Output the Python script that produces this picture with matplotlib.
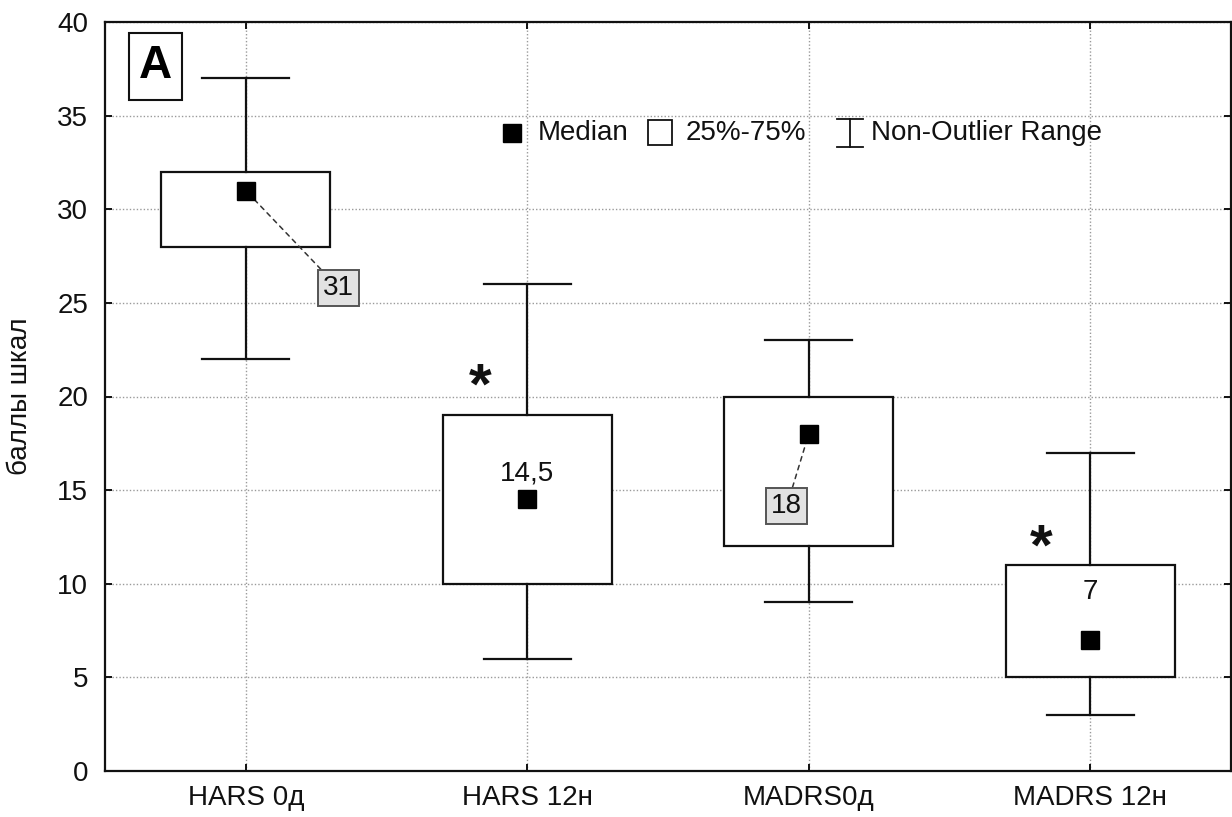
import matplotlib

matplotlib.use("Agg")
import matplotlib.pyplot as plt
from matplotlib.lines import Line2D
from matplotlib.patches import Rectangle

plt.rcParams["font.family"] = ["Liberation Sans", "DejaVu Sans"]

categories = ["HARS 0д", "HARS 12н", "MADRS0д", "MADRS 12н"]
medians = [31, 14.5, 18, 7]
q1 = [28, 10, 12, 5]
q3 = [32, 19, 20, 11]
whis_lo = [22, 6, 9, 3]
whis_hi = [37, 26, 23, 17]
median_labels = ["31", "14,5", "18", "7"]
significant = [False, True, False, True]

INK = "#111111"
GRID = "#9a9a9a"
FS = 20

fig = plt.figure(figsize=(12.32, 8.17), dpi=100, facecolor="white")
ax = fig.add_axes([105 / 1232, 46 / 817, 1126 / 1232, 749 / 817])

stats = []
for i, name in enumerate(categories):
    stats.append(dict(label=name, med=medians[i], q1=q1[i], q3=q3[i],
                      whislo=whis_lo[i], whishi=whis_hi[i], fliers=[]))

pos = list(range(len(categories)))
ax.bxp(stats, positions=pos, widths=0.6, capwidths=0.31, patch_artist=True,
       showfliers=False,
       boxprops=dict(facecolor="white", edgecolor=INK, linewidth=1.6),
       whiskerprops=dict(color=INK, linewidth=1.6),
       capprops=dict(color=INK, linewidth=1.6),
       medianprops=dict(linestyle="none"))
ax.plot(pos, medians, linestyle="none", marker="s", markersize=13.5,
        color="black", zorder=5)

# median values: boxed labels with dashed leader, plain labels above marker
label_box = dict(boxstyle="square,pad=0.18", facecolor="#e2e2e2",
                 edgecolor="#555555", linewidth=1.4)
leader = dict(arrowstyle="-", linestyle=(0, (3, 3)), linewidth=1.1,
              color="#333333", shrinkA=0, shrinkB=4)
ax.annotate(median_labels[0], xy=(pos[0], medians[0]), xytext=(0.33, 25.8),
            ha="center", va="center", fontsize=FS, color=INK,
            bbox=label_box, arrowprops=leader, zorder=4)
ax.annotate(median_labels[2], xy=(pos[2], medians[2]), xytext=(1.922, 14.15),
            ha="center", va="center", fontsize=FS, color=INK,
            bbox=label_box, arrowprops=leader, zorder=4)
ax.text(pos[1], medians[1] + 1.4, median_labels[1], ha="center",
        va="center", fontsize=FS, color=INK, zorder=4)
ax.text(pos[3], medians[3] + 2.55, median_labels[3], ha="center",
        va="center", fontsize=FS, color=INK, zorder=4)

# significance marks
star_xy = {1: (0.832, 20.45), 3: (2.827, 11.85)}
for i, flag in enumerate(significant):
    if flag:
        x, y = star_xy[i]
        ax.text(x, y, "*", ha="center", va="center", fontsize=42,
                fontweight="bold", color=INK)

ax.set_xlim(-0.5, 3.5)
ax.set_ylim(0, 40)
ax.set_xticks(pos)
ax.set_xticklabels(categories)
ax.set_yticks(range(0, 41, 5))
ax.grid(True, linestyle=(0, (1, 1.5)), color=GRID, linewidth=1.0)
ax.set_axisbelow(True)
ax.tick_params(direction="in", length=5, width=1.4, top=True, right=True,
               labelsize=FS, colors=INK)
ax.tick_params(axis="y", pad=12)
ax.tick_params(axis="x", pad=10)
for s in ax.spines.values():
    s.set_linewidth(1.6)
    s.set_color(INK)

ax.set_ylabel("баллы шкал", fontsize=FS, color=INK)
ax.yaxis.set_label_coords(-0.064, 0.5)

# panel letter
ax.add_patch(Rectangle((24 / 1126, 671 / 749), 53 / 1126, 67 / 749,
                       transform=ax.transAxes, facecolor="white",
                       edgecolor=INK, linewidth=1.5, zorder=6))
ax.text(50 / 1126, 705 / 749, "A", transform=ax.transAxes, ha="center",
        va="center", fontsize=33, fontweight="bold", color="black", zorder=7)

# legend drawn by hand
ly = 0.852
tr = ax.transAxes
ax.plot([0.3615], [ly], marker="s", markersize=13, color="black",
        transform=tr, clip_on=False, zorder=6)
ax.text(0.3845, ly, "Median", transform=tr, ha="left", va="center",
        fontsize=FS, color=INK)
ax.add_patch(Rectangle((0.4825, ly - 0.0167), 0.0213, 0.0334, transform=tr,
                       facecolor="white", edgecolor=INK, linewidth=1.3,
                       zorder=6))
ax.text(0.516, ly, "25%-75%", transform=tr, ha="left", va="center",
        fontsize=FS, color=INK)
wx, wh, cw = 0.662, 0.0187, 0.0115
ax.add_line(Line2D([wx, wx], [ly - wh, ly + wh], transform=tr, color=INK,
                   linewidth=1.3))
for yy in (ly - wh, ly + wh):
    ax.add_line(Line2D([wx - cw, wx + cw], [yy, yy], transform=tr,
                       color=INK, linewidth=1.3))
ax.text(0.680, ly, "Non-Outlier Range", transform=tr, ha="left",
        va="center", fontsize=FS, color=INK)

fig.savefig("out.png", dpi=100, facecolor="white")
